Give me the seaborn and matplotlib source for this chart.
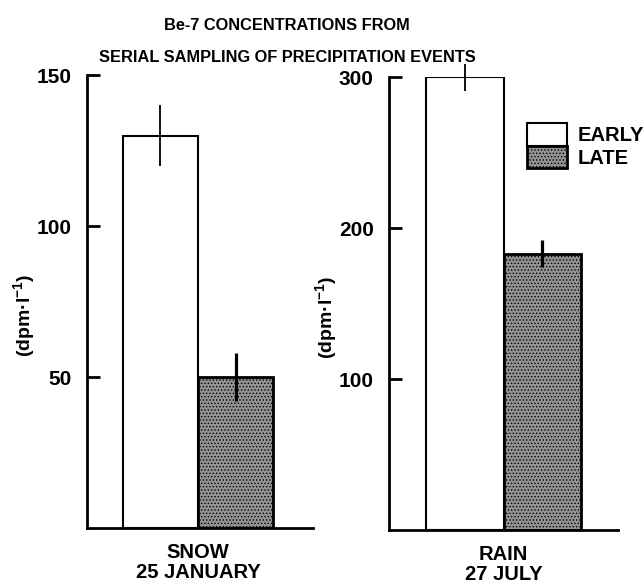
import matplotlib.pyplot as plt
import seaborn as sns
import pandas as pd
from matplotlib.patches import Patch

# values
periods = ['EARLY', 'LATE']
snow_label = 'SNOW\n25 JANUARY'
snow_values = [130, 50]
snow_errors = [10, 8]
snow_ticks = [50, 100, 150]
rain_label = 'RAIN\n27 JULY'
rain_values = [300, 183]
rain_errors = [9, 9]
rain_ticks = [100, 200, 300]

late_color = '#939393'

sns.set_style('ticks')
plt.rcParams['font.family'] = ['Liberation Sans', 'DejaVu Sans']
plt.rcParams['font.weight'] = 'bold'
plt.rcParams['mathtext.default'] = 'regular'
plt.rcParams['text.color'] = 'black'
plt.rcParams['axes.labelcolor'] = 'black'
plt.rcParams['xtick.color'] = 'black'
plt.rcParams['ytick.color'] = 'black'
plt.rcParams['axes.edgecolor'] = 'black'
plt.rcParams['hatch.color'] = '#333333'
plt.rcParams['hatch.linewidth'] = 0.6


def draw_panel(ax, label, values, errors, ticks, xlim, ylabel_x):
    df = pd.DataFrame({'event': [label] * len(periods), 'period': periods, 'value': values})
    sns.barplot(data=df, x='event', y='value', hue='period', hue_order=periods,
                palette={'EARLY': 'white', 'LATE': late_color}, edgecolor='black',
                linewidth=1.5, errorbar=None, width=0.8, legend=False, ax=ax)
    bars = [p for p in ax.patches][:len(periods)]
    for bar, period in zip(bars, periods):
        if period == 'LATE':
            bar.set_hatch('.....')
            bar.set_linewidth(2)
    centers = [b.get_x() + b.get_width() / 2 for b in bars]
    eb = ax.errorbar(centers, values, yerr=errors, fmt='none', ecolor='black',
                     elinewidth=1.5, capsize=0)
    eb.lines[2][0].set_linewidths([1.3, 2.3])
    for child in eb.get_children():
        child.set_clip_on(False)

    ax.set_xlim(*xlim)
    ax.set_ylim(0, ticks[-1])
    ax.set_yticks(ticks)
    ax.set_xlabel('')
    ax.set_ylabel('(dpm·l$^{-1}$)', fontsize=14, fontweight='bold')
    ax.yaxis.set_label_coords(ylabel_x, 0.47)
    ax.tick_params(axis='y', direction='in', length=9, width=2, pad=11, labelsize=15)
    ax.tick_params(axis='x', length=0, pad=11, labelsize=14.5)
    for t in ax.get_xticklabels():
        t.set_fontweight('bold')
        t.set_linespacing(1.05)
    for t in ax.get_yticklabels():
        t.set_fontweight('bold')
    sns.despine(ax=ax)
    for side in ['left', 'bottom']:
        ax.spines[side].set_linewidth(2)


fig = plt.figure(figsize=(6.44, 5.88), dpi=100)
ax1 = fig.add_axes([0.135, 0.102, 0.351, 0.770])
ax2 = fig.add_axes([0.604, 0.0986, 0.356, 0.770])

draw_panel(ax1, snow_label, snow_values, snow_errors, snow_ticks, (-0.59, 0.61), -0.221)
draw_panel(ax2, rain_label, rain_values, rain_errors, rain_ticks, (-0.59, 0.59), -0.218)

fig.text(287 / 644, 1 - 25 / 588, 'Be-7 CONCENTRATIONS FROM', ha='center', va='center',
         fontsize=11.8, fontweight='bold')
fig.text(287 / 644, 1 - 57 / 588, 'SERIAL SAMPLING OF PRECIPITATION EVENTS', ha='center',
         va='center', fontsize=11.8, fontweight='bold')

handles = [Patch(facecolor='white', edgecolor='black', linewidth=1.5),
           Patch(facecolor=late_color, edgecolor='black', linewidth=2, hatch='.....')]
fig.legend(handles, periods, loc='upper left', bbox_to_anchor=(527 / 644, 1 - 123 / 588),
           frameon=False, borderpad=0, borderaxespad=0, labelspacing=0, handlelength=2.0,
           handleheight=1.35, handletextpad=0.5, prop={'size': 14.5, 'weight': 'bold'})

fig.savefig('out.png', dpi=100)
